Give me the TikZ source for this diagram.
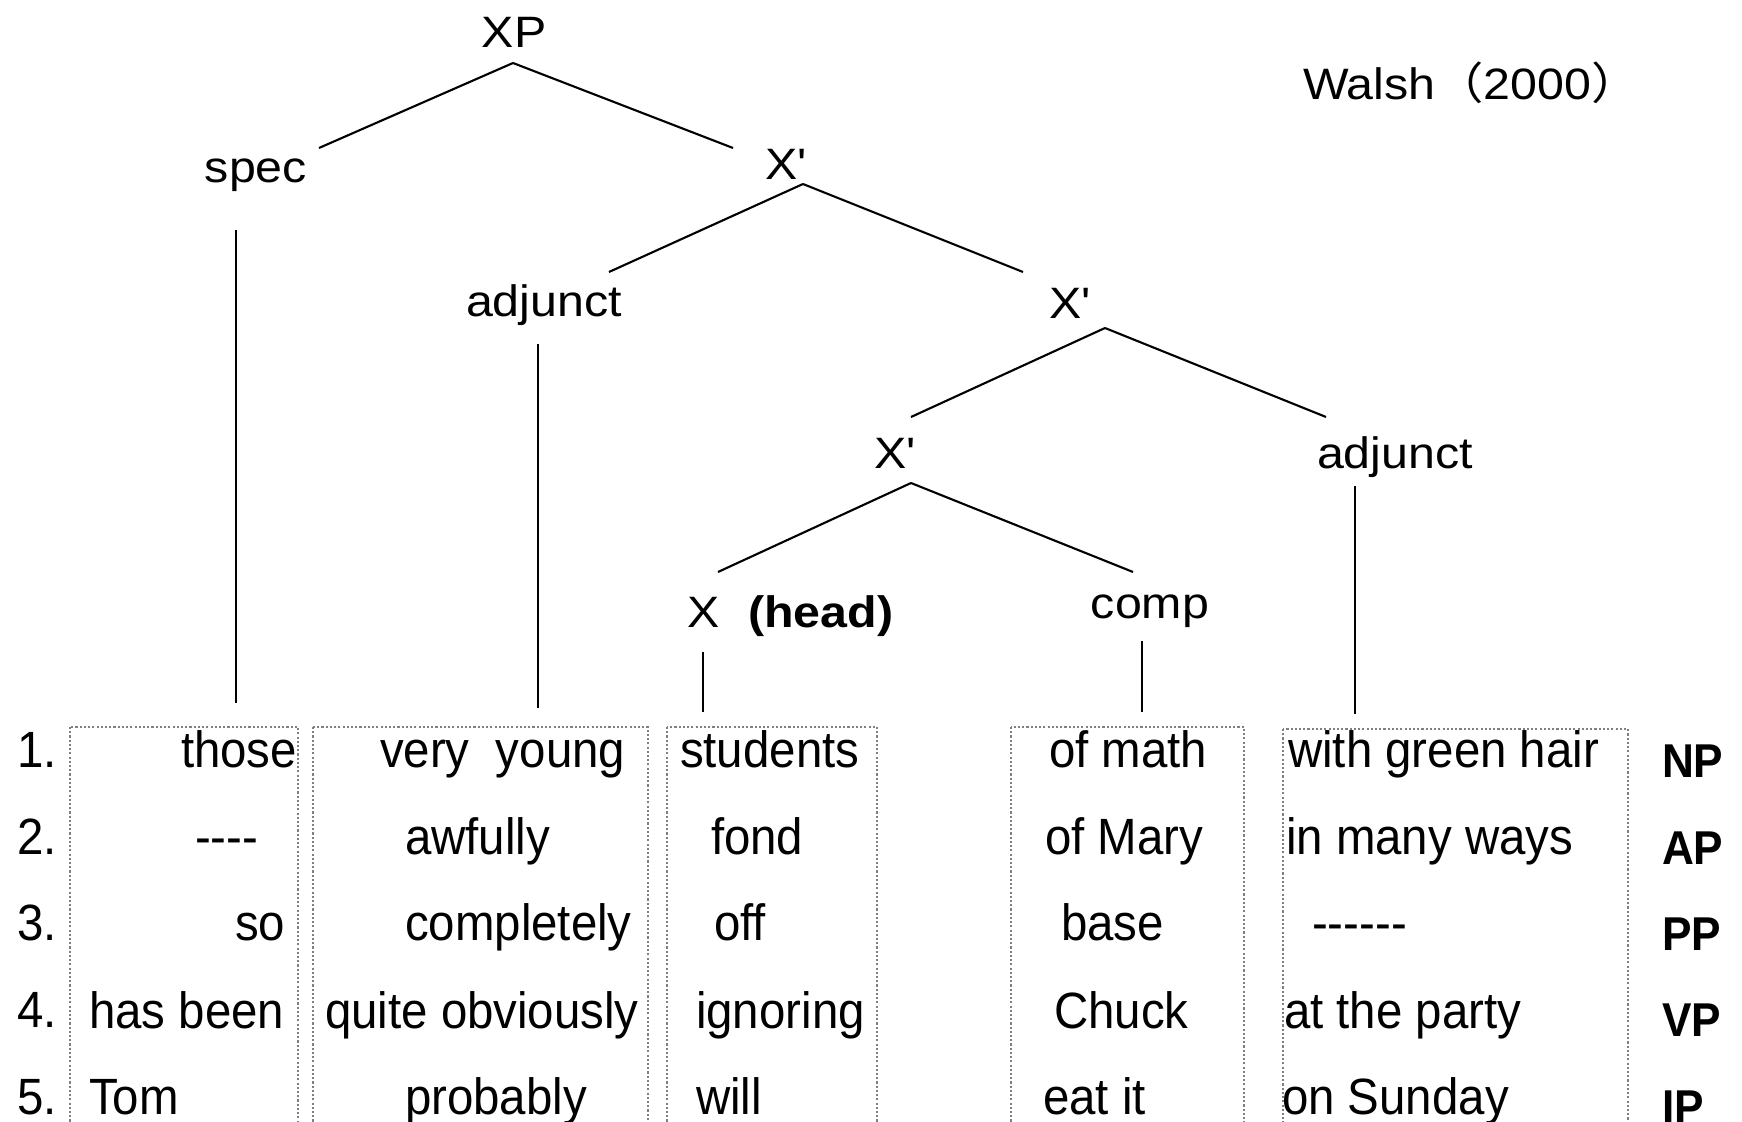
\documentclass[tikz,border=0pt]{standalone}
\usepackage{fontspec}
\setmainfont{Liberation Sans}
\newfontfamily\treefont[FakeStretch=1.1]{Liberation Sans}
\newfontfamily\rowfont[FakeStretch=0.93]{Liberation Sans}
\newfontfamily\cjk[FakeStretch=1.1]{Noto Sans CJK SC}
\begin{document}
\begin{tikzpicture}[x=0.01cm, y=-0.01cm, line width=0.6pt,
    lab/.style={anchor=base, inner sep=0pt, font=\treefont\fontsize{12.5}{15}\selectfont},
    cell/.style={anchor=base west, inner sep=0pt, font=\rowfont\fontsize{14.5}{17}\selectfont},
    cat/.style={anchor=base west, inner sep=0pt, font=\rowfont\bfseries\fontsize{13.5}{16}\selectfont},
    colbox/.style={draw=gray, line width=0.4pt, dash pattern=on 0.6pt off 0.6pt}]
    \useasboundingbox (0,0) rectangle (1742,1122);
    % tree
    \node[lab] (xp) at (514,48) {XP};
    \node[lab] (spec) at (256,183) {spec};
    \node[lab] (x1) at (786,180) {X\textquotesingle};
    \node[lab] (adj1) at (544,317) {adjunct};
    \node[lab] (x2) at (1070,319) {X\textquotesingle};
    \node[lab] (x3) at (895,469) {X\textquotesingle};
    \node[lab] (adj2) at (1395,469) {adjunct};
    \node[lab] (x0) at (704,628) {X};
    \node[lab, anchor=base west, font=\treefont\fontsize{12.5}{15}\selectfont\bfseries] (head) at (747,628) {(head)};
    \node[lab] (comp) at (1150,619) {comp};
    \node[lab, anchor=base west] (walsh) at (1302,100) {Walsh{\cjk （}2000{\cjk ）}};
    \draw ([shift={(-1,15)}]xp.base) -- ([shift={(63,-35)}]spec.base);
    \draw ([shift={(-1,15)}]xp.base) -- ([shift={(-53,-32)}]x1.base);
    \draw ([shift={(17,4)}]x1.base) -- ([shift={(65,-45)}]adj1.base);
    \draw ([shift={(17,4)}]x1.base) -- ([shift={(-47,-47)}]x2.base);
    \draw ([shift={(35,9)}]x2.base) -- ([shift={(16,-52)}]x3.base);
    \draw ([shift={(35,9)}]x2.base) -- ([shift={(-69,-52)}]adj2.base);
    \draw ([shift={(16,14)}]x3.base) -- ([shift={(14,-56)}]x0.base);
    \draw ([shift={(16,14)}]x3.base) -- ([shift={(-17,-47)}]comp.base);
    % stems down to the columns
    \coordinate (e1) at (236,703);
    \coordinate (e2) at (538,708);
    \coordinate (e3) at (703,712);
    \coordinate (e4) at (1142,712);
    \coordinate (e5) at (1355,714);
    \draw ([shift={(-20,47)}]spec.base) -- (e1);
    \draw ([shift={(-6,27)}]adj1.base) -- (e2);
    \draw ([shift={(-1,24)}]x0.base) -- (e3);
    \draw ([shift={(-8,22)}]comp.base) -- (e4);
    \draw ([shift={(-40,17)}]adj2.base) -- (e5);
    % columns
    \draw[colbox] (70,727) rectangle (298,1140);
    \draw[colbox] (313,727) rectangle (648,1140);
    \draw[colbox] (667,727) rectangle (877,1140);
    \draw[colbox] (1011,727) rectangle (1244,1140);
    \draw[colbox] (1283,729) rectangle (1628,1140);
    \foreach \c [count=\i] in {NP,AP,PP,VP,IP} {
        \node[cell] (n\i) at (16,{768+86.5*(\i-1)}) {\i.};
        \node[cat] (c\i) at (1661,{778+86.3*(\i-1)}) {\c};
    }
    % row 1
    \node[cell] (r1a) at (180,768) {those};
    \node[cell] (r1b) at (379,768) {very\ \ young};
    \node[cell] (r1c) at (679,768) {students};
    \node[cell] (r1d) at (1048,768) {of math};
    \node[cell] (r1e) at (1287,768) {with green hair};
    % row 2
    \node[cell] (r2a) at (194,854) {-{}-{}-{}-};
    \node[cell] (r2b) at (404,854) {awfully};
    \node[cell] (r2c) at (710,854) {fond};
    \node[cell] (r2d) at (1044,854) {of Mary};
    \node[cell] (r2e) at (1285,854) {in many ways};
    % row 3
    \node[cell] (r3a) at (234,941) {so};
    \node[cell] (r3b) at (404,941) {completely};
    \node[cell] (r3c) at (713,941) {off};
    \node[cell] (r3d) at (1060,941) {base};
    \node[cell] (r3e) at (1311,941) {-{}-{}-{}-{}-{}-};
    % row 4
    \node[cell] (r4a) at (88,1028) {has been};
    \node[cell] (r4b) at (324,1028) {quite obviously};
    \node[cell] (r4c) at (695,1028) {ignoring};
    \node[cell] (r4d) at (1053,1028) {Chuck};
    \node[cell] (r4e) at (1283,1028) {at the party};
    % row 5
    \node[cell] (r5a) at (88,1114) {Tom};
    \node[cell] (r5b) at (404,1114) {probably};
    \node[cell] (r5c) at (695,1114) {will};
    \node[cell] (r5d) at (1042,1114) {eat it};
    \node[cell] (r5e) at (1281,1114) {on Sunday};
\end{tikzpicture}
\end{document}
